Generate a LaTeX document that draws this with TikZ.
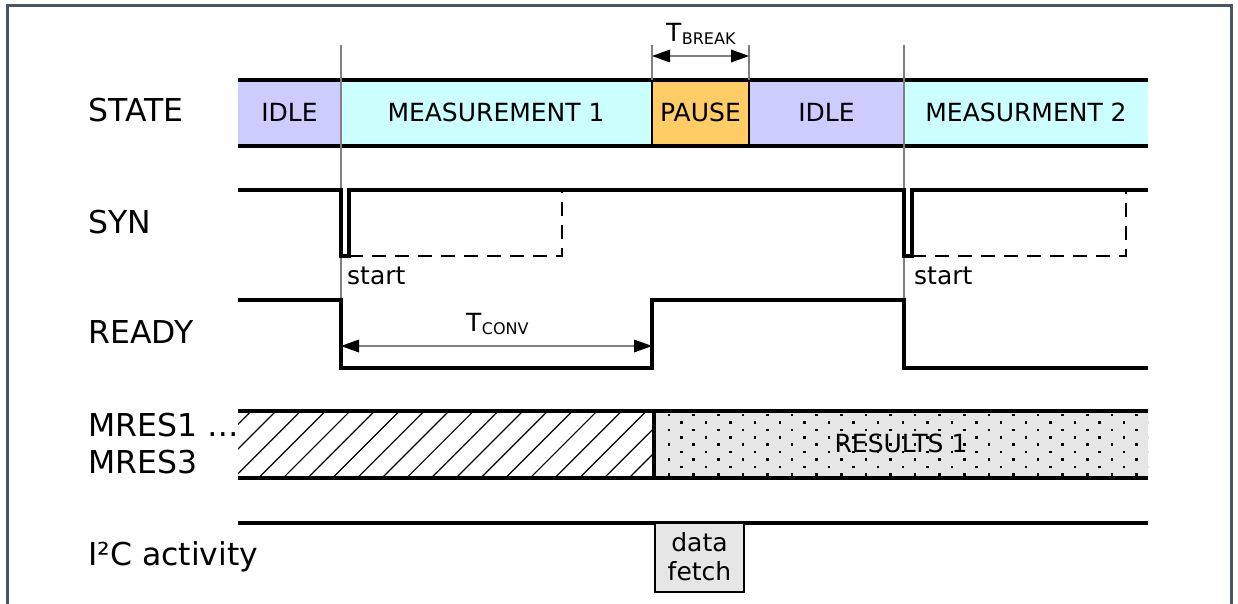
\documentclass[tikz,border=0pt]{standalone}
\usepackage{fontspec}
\setmainfont{DejaVu Sans}
\usetikzlibrary{arrows.meta}
\definecolor{idle}{HTML}{CCCCFF}
\definecolor{meas}{HTML}{CCFFFF}
\definecolor{pausec}{HTML}{FFCC66}
\definecolor{framec}{HTML}{4A5560}
\definecolor{lgray}{HTML}{E6E6E6}
\definecolor{guidec}{HTML}{808080}
\begin{document}
\begin{tikzpicture}[x=1pt,y=-1pt,
  lbl/.style={anchor=west,font=\fontsize{31.5}{38}\selectfont,inner sep=0pt},
  txt/.style={font=\fontsize{25}{30}\selectfont,inner sep=0pt},
  sub/.style={font=\fontsize{16}{19}\selectfont,inner sep=0pt},
  sig/.style={line width=3.8pt,line join=miter},
  bar/.style={line width=3.4pt},
  divider/.style={line width=2.4pt},
  guide/.style={line width=1.3pt,draw=guidec},
  dimline/.style={line width=1.2pt,draw=guidec,{Triangle[length=18pt,width=13pt,fill=black,line width=0pt]}-{Triangle[length=18pt,width=13pt,fill=black,line width=0pt]}},
  dsh/.style={line width=2.5pt,dash pattern=on 14pt off 9pt}]
\useasboundingbox (0,0) rectangle (1238,604);
\fill[white] (0,0) rectangle (1238,604);
\draw[framec,line width=3pt] (7.5,610) -- (7.5,5.5) -- (1231.5,5.5) -- (1231.5,610);

% ---------- STATE row
\fill[idle]   (238,80) rectangle (341,146);
\fill[meas]   (341,80) rectangle (652,146);
\fill[pausec] (652,80) rectangle (749,146);
\fill[idle]   (749,80) rectangle (904,146);
\fill[meas]   (904,80) rectangle (1148,146);
\draw[divider] (341,80) -- (341,146);
\draw[divider] (652,80) -- (652,146);
\draw[divider] (749,80) -- (749,146);
\draw[divider] (904,80) -- (904,146);
\draw[bar] (238,80) -- (1148,80);
\draw[bar] (238,146) -- (1148,146);
\node[txt] (s1) at (289.5,112.5) {IDLE};
\node[txt] (s2) at (496,112.5) {MEASUREMENT 1};
\node[txt] (s3) at (700.5,112.5) {PAUSE};
\node[txt] (s4) at (826.5,112.5) {IDLE};
\node[txt] (s5) at (1026,112.5) {MEASURMENT 2};

% guides
\coordinate (g1t) at (341,45);  \coordinate (g1b) at (341,300);
\coordinate (g2t) at (904,45);  \coordinate (g2b) at (904,300);
\coordinate (g3t) at (652,45);  \coordinate (g3b) at (652,80);
\coordinate (g4t) at (749,45);  \coordinate (g4b) at (749,80);
\draw[guide] (g1t) -- (g1b);
\draw[guide] (g2t) -- (g2b);
\draw[guide] (g3t) -- (g3b);
\draw[guide] (g4t) -- (g4b);
\coordinate (tb1) at (652,56); \coordinate (tb2) at (749,56);
\draw[dimline] (tb1) -- (tb2);
\node[txt,anchor=base west] (tbT) at (666,41.5) {T};
\node[sub,anchor=base west] (tbS) at (tbT.base east) [yshift=-3pt] {BREAK};

% ---------- SYN
\draw[sig] (238,190) -- (341,190) -- (341,256) -- (349,256) -- (349,190) -- (904,190) -- (904,256) -- (912,256) -- (912,190) -- (1148,190);
\draw[dsh] (349,256) -- (562,256) -- (562,190);
\draw[dsh] (912,256) -- (1126,256) -- (1126,190);
\node[txt,anchor=base west] (st1) at (347,284) {start};
\node[txt,anchor=base west] (st2) at (914,284) {start};

% ---------- READY
\draw[sig] (238,300) -- (341,300) -- (341,368) -- (652,368) -- (652,300) -- (904,300) -- (904,368) -- (1148,368);
\coordinate (tc1) at (341,346); \coordinate (tc2) at (652,346);
\draw[dimline] (tc1) -- (tc2);
\node[txt,anchor=base west] (tcT) at (466,331.5) {T};
\node[sub,anchor=base west] (tcS) at (tcT.base east) [yshift=-3pt] {CONV};

% ---------- MRES
\begin{scope}
\clip (238,411) rectangle (652,478);
\foreach \k in {-1,...,19} {
  \draw[line width=1.2pt] ({251.3+24.7*\k-67},478) -- ({251.3+24.7*\k},411);
}
\end{scope}
\fill[lgray] (655,411) rectangle (1148,478);
\begin{scope}
\clip (655,411) rectangle (1148,478);
\foreach \r in {0,...,8} {
  \foreach \c in {0,...,20} {
    \fill ({669+24.6*\c+12.3*mod(\r,2)-1.2},{415+7.4*\r-1.2}) rectangle +(2.5,2.5);
  }
}
\end{scope}
\draw[bar] (238,411) -- (1148,411);
\draw[bar] (238,478) -- (1148,478);
\draw[line width=3.8pt] (654,409.5) -- (654,479.5);
\node[txt] (res) at (901,443) {RESULTS 1};

% ---------- I2C
\draw[bar] (238,523) -- (1148,523);
\draw[fill=lgray,line width=1.6pt] (655,523) rectangle (744,592);
\node[txt,anchor=base] (df1) at (699.5,551.5) {data};
\node[txt,anchor=base] (df2) at (699.5,580) {fetch};

% ---------- labels
\node[lbl] (lstate) at (88,110.5) {STATE};
\node[lbl] (lsyn) at (88,222) {SYN};
\node[lbl] (lready) at (88,332) {READY};
\node[lbl] (lm1) at (88,425.5) {MRES1 …};
\node[lbl] (lm3) at (88,462) {MRES3};
\node[lbl,anchor=base west] (li2c) at (88,565) {I²C activity};
\end{tikzpicture}
\end{document}
